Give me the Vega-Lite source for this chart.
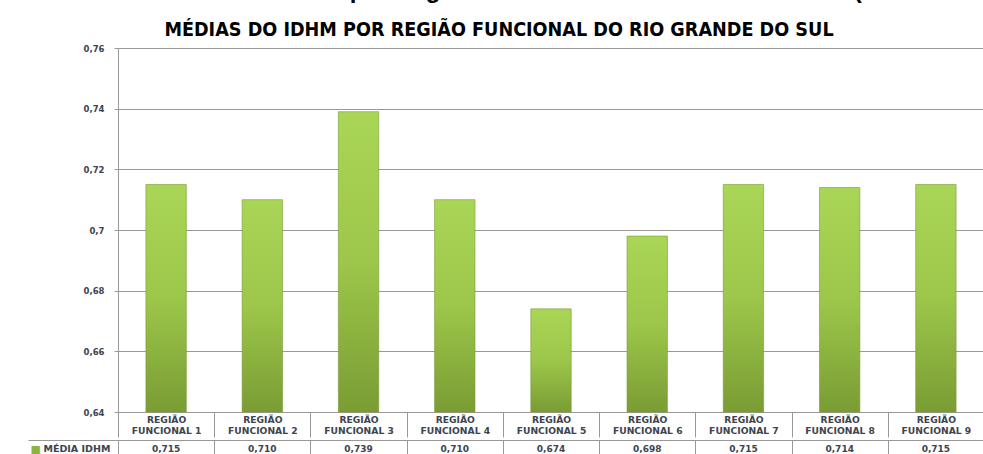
{
  "$schema": "https://vega.github.io/schema/vega-lite/v6.json",
  "padding": {"left": 27, "top": -21, "right": 0, "bottom": 0},
  "background": "white",
  "spacing": -4,
  "config": {
    "locale": {"number": {"decimal": ",", "thousands": ".", "grouping": [3], "currency": ["R$", ""]}},
    "font": "DejaVu Sans"
  },
  "title": {
    "text": "Gráfico 1 – Médias do IDHM por Região Funcional do Rio Grande do Sul (fonte: Atlas)",
    "font": "Liberation Sans",
    "fontSize": 24,
    "fontWeight": "bold",
    "color": "#000000",
    "anchor": "start",
    "offset": 17
  },
  "data": {
    "values": [
      {"regiao": "REGIÃO FUNCIONAL 1", "serie": "MÉDIA IDHM", "idhm": 0.715},
      {"regiao": "REGIÃO FUNCIONAL 2", "serie": "MÉDIA IDHM", "idhm": 0.710},
      {"regiao": "REGIÃO FUNCIONAL 3", "serie": "MÉDIA IDHM", "idhm": 0.739},
      {"regiao": "REGIÃO FUNCIONAL 4", "serie": "MÉDIA IDHM", "idhm": 0.710},
      {"regiao": "REGIÃO FUNCIONAL 5", "serie": "MÉDIA IDHM", "idhm": 0.674},
      {"regiao": "REGIÃO FUNCIONAL 6", "serie": "MÉDIA IDHM", "idhm": 0.698},
      {"regiao": "REGIÃO FUNCIONAL 7", "serie": "MÉDIA IDHM", "idhm": 0.715},
      {"regiao": "REGIÃO FUNCIONAL 8", "serie": "MÉDIA IDHM", "idhm": 0.714},
      {"regiao": "REGIÃO FUNCIONAL 9", "serie": "MÉDIA IDHM", "idhm": 0.715}
    ]
  },
  "vconcat": [
    {
      "width": 866,
      "height": 364,
      "title": {
        "text": "MÉDIAS DO IDHM POR REGIÃO FUNCIONAL DO RIO GRANDE DO SUL",
        "font": "DejaVu Sans Condensed",
        "fontSize": 19.6,
        "fontWeight": "bold",
        "color": "#000000",
        "anchor": "middle",
        "dx": -52,
        "offset": 3
      },
      "view": {"stroke": null},
      "mark": {
        "type": "bar",
        "width": {"band": 0.42},
        "stroke": "#7a9a35",
        "strokeWidth": 0.6,
        "color": {
          "gradient": "linear",
          "x1": 0, "y1": 0, "x2": 0, "y2": 1,
          "stops": [
            {"offset": 0, "color": "#aad657"},
            {"offset": 0.5, "color": "#9cc74a"},
            {"offset": 1, "color": "#7a9c34"}
          ]
        }
      },
      "encoding": {
        "x": {
          "field": "regiao",
          "type": "nominal",
          "sort": null,
          "scale": {"paddingInner": 0, "paddingOuter": 0},
          "axis": {
            "title": null,
            "labelAngle": 0,
            "tickBand": "extent",
            "tickSize": 25,
            "tickColor": "#999999",
            "domainColor": "#999999",
            "labelPadding": -22,
            "labelBaseline": "top",
            "labelExpr": "datum.label ? ['REGIÃO', slice(datum.label, 7)] : ''",
            "labelFont": "DejaVu Sans",
            "labelFontSize": 9.2,
            "labelFontWeight": "bold",
            "labelColor": "#3c4450",
            "labelLineHeight": 11,
            "minExtent": 25,
            "maxExtent": 25
          }
        },
        "y": {
          "field": "idhm",
          "type": "quantitative",
          "scale": {"domain": [0.64, 0.76], "zero": false, "nice": false},
          "axis": {
            "title": null,
            "values": [0.64, 0.66, 0.68, 0.7, 0.72, 0.74, 0.76],
            "format": ".2~f",
            "grid": true,
            "gridColor": "#999999",
            "domainColor": "#999999",
            "tickColor": "#999999",
            "tickSize": 4,
            "labelPadding": 10,
            "labelFont": "DejaVu Sans",
            "labelFontSize": 8.5,
            "labelFontWeight": "bold",
            "labelColor": "#3c4450"
          }
        },
        "y2": {"datum": 0.64}
      }
    },
    {
      "width": 866,
      "height": 17,
      "view": {"stroke": "#999999"},
      "mark": {"type": "text", "font": "DejaVu Sans", "fontSize": 9, "fontWeight": "bold", "color": "#3c4450"},
      "encoding": {
        "x": {
          "field": "regiao",
          "type": "nominal",
          "sort": null,
          "scale": {"paddingInner": 0, "paddingOuter": 0},
          "axis": {"orient": "bottom", "labels": false, "ticks": false, "domain": false, "title": null, "grid": true, "tickBand": "extent", "gridColor": "#999999", "minExtent": 0, "maxExtent": 0}
        },
        "y": {
          "field": "serie",
          "type": "nominal",
          "scale": {"type": "band", "paddingInner": 0, "paddingOuter": 0},
          "axis": {
            "title": "■",
            "titleAngle": 0,
            "titleX": -88,
            "titleY": 9,
            "titleAlign": "left",
            "titleBaseline": "middle",
            "titleColor": "#8cb43f",
            "titleFontSize": 11,
            "domain": false,
            "tickBand": "extent",
            "tickSize": 90,
            "tickColor": "#999999",
            "labelPadding": -15,
            "labelAlign": "left",
            "labelFont": "DejaVu Sans",
            "labelFontSize": 9.5,
            "labelFontWeight": "bold",
            "labelColor": "#3c4450"
          }
        },
        "text": {"field": "idhm", "type": "quantitative", "format": ".3f"}
      }
    }
  ]
}
